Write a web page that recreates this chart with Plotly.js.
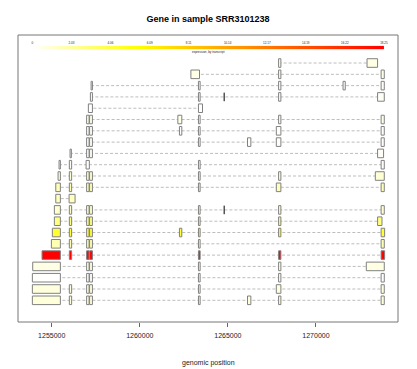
<!DOCTYPE html>
<html><head><meta charset="utf-8">
<script src="https://cdn.plot.ly/plotly-3.0.1.min.js"></script>
<style>html,body{margin:0;padding:0;background:#fff}</style>
</head><body><div id="chart" style="width:417px;height:369px"></div>
<script>
const titleText = 'Gene in sample SRR3101238';
const xTitleText = 'genomic position';
const cbTitleText = 'expression, by transcript';

// one entry per transcript (row, top to bottom)
const exonStarts = [
 [1267880, 1272900],
 [1262900, 1267880, 1273700],
 [1257235, 1263330, 1267880, 1271540, 1273700],
 [1257195, 1263330, 1264789, 1267880, 1273500],
 [1257080, 1263330],
 [1256980, 1257150, 1262160, 1263330, 1267880, 1273700],
 [1256980, 1257150, 1262250, 1263330, 1267750, 1273700],
 [1256980, 1257150, 1263330, 1266115, 1267750, 1273700],
 [1256040, 1256980, 1257150, 1273500],
 [1255415, 1256000, 1256950, 1263330, 1273700],
 [1255360, 1256000, 1256980, 1257150, 1263330, 1267880, 1273370],
 [1255230, 1256000, 1256980, 1257150, 1263330, 1267750, 1273700],
 [1255230, 1255985],
 [1255150, 1256000, 1256980, 1257150, 1263330, 1264789, 1267880, 1273700],
 [1255150, 1256000, 1256980, 1257150, 1263330, 1267880, 1273500],
 [1255035, 1256000, 1256980, 1257150, 1262250, 1263330, 1267880, 1273700],
 [1254980, 1256000, 1256980, 1257150, 1263330, 1273700],
 [1254450, 1256000, 1256980, 1257150, 1263330, 1267880, 1273700],
 [1253920, 1256980, 1257150, 1263330, 1267880, 1272860],
 [1253900, 1256980, 1257150, 1263330, 1267880, 1273700],
 [1253900, 1256000, 1256980, 1257150, 1263330, 1267750, 1273700],
 [1253900, 1256000, 1256980, 1257150, 1263330, 1266115, 1267880, 1273700]
];
const exonEnds = [
 [1268010, 1273500],
 [1263390, 1268010, 1273880],
 [1257310, 1263425, 1268010, 1271665, 1273880],
 [1257310, 1263425, 1264791, 1268010, 1273880],
 [1257310, 1263560],
 [1257120, 1257310, 1262385, 1263425, 1268010, 1273880],
 [1257120, 1257310, 1262385, 1263425, 1268010, 1273880],
 [1257120, 1257310, 1263425, 1266305, 1268010, 1273880],
 [1256115, 1257120, 1257310, 1273840],
 [1255490, 1256130, 1257135, 1263425, 1273880],
 [1255490, 1256130, 1257120, 1257310, 1263425, 1268010, 1273880],
 [1255490, 1256130, 1257120, 1257310, 1263425, 1268010, 1273880],
 [1255490, 1256325],
 [1255490, 1256130, 1257120, 1257310, 1263425, 1264791, 1268010, 1273880],
 [1255490, 1256130, 1257120, 1257310, 1263425, 1268010, 1273750],
 [1255490, 1256130, 1257120, 1257310, 1262385, 1263425, 1268010, 1273900],
 [1255490, 1256130, 1257120, 1257310, 1263425, 1273880],
 [1255490, 1256130, 1257120, 1257310, 1263425, 1268010, 1273900],
 [1255490, 1257120, 1257310, 1263425, 1268010, 1273880],
 [1255490, 1257120, 1257310, 1263425, 1268010, 1273880],
 [1255490, 1256130, 1257120, 1257310, 1263425, 1268010, 1273880],
 [1255490, 1256130, 1257120, 1257310, 1263425, 1266305, 1268010, 1273880]
];
const expression = [0.6, 0.5, 0.1, 0.15, 0.05, 0.4, 0.1, 0.1, 0.15, 0.1, 0.9, 1.5,
                    1.4, 1.0, 2.7, 4.4, 1.6, 18.25, 0.6, 0.05, 0.7, 0.8];

const xTickVals = [1255000, 1260000, 1265000, 1270000];
const xTickText = ['1255000', '1260000', '1265000', '1270000'];
const cbTickVals = [0, 2.03, 4.06, 6.09, 8.11, 10.14, 12.17, 14.19, 16.22, 18.25];
const cbTickText = ['0', '2.03', '4.06', '6.09', '8.11', '10.14', '12.17', '14.19', '16.22', '18.25'];

// ---- styling / layout ----
const colorStops = [[0, [255, 255, 255]], [0.3, [255, 255, 0]], [1, [255, 0, 0]]];
const cbMax = cbTickVals[cbTickVals.length - 1];
function colorFor(v) {
  const t = Math.max(0, Math.min(1, v / cbMax));
  for (let i = 1; i < colorStops.length; i++) {
    const [t0, c0] = colorStops[i - 1], [t1, c1] = colorStops[i];
    if (t <= t1) {
      const f = (t - t0) / (t1 - t0);
      const c = c0.map((a, k) => Math.round(a + (c1[k] - a) * f));
      return 'rgb(' + c.join(',') + ')';
    }
  }
  return 'rgb(255,0,0)';
}
const plotlyScale = colorStops.map(([t, c]) => [t, 'rgb(' + c.join(',') + ')']);

const nRows = exonStarts.length;
const shapes = [];
// intron dashed lines
for (let r = 0; r < nRows; r++) {
  const y = r + 1;
  shapes.push({type: 'line', xref: 'x', yref: 'y', layer: 'above',
    x0: Math.min(...exonStarts[r]), x1: Math.max(...exonEnds[r]), y0: y, y1: y,
    line: {color: '#BDBDBD', width: 1, dash: '3px,2px'}});
}
const hh = 0.38;
for (let r = 0; r < nRows; r++) {
  const y = r + 1;
  const fill = colorFor(expression[r]);
  for (let i = 0; i < exonStarts[r].length; i++) {
    const s = exonStarts[r][i], e = exonEnds[r][i];
    const thin = (e - s) < 30;
    if (thin) {
      shapes.push({type: 'line', xref: 'x', yref: 'y', layer: 'above',
        x0: (s + e) / 2, x1: (s + e) / 2, y0: y - hh, y1: y + hh,
        line: {color: '#000', width: 1}});
    } else {
      shapes.push({type: 'rect', xref: 'x', yref: 'y', layer: 'above',
        x0: s, x1: e, y0: y - hh, y1: y + hh,
        fillcolor: fill, line: {color: '#808080', width: 1}});
    }
  }
}
// frame
shapes.push({type: 'rect', xref: 'paper', yref: 'paper', x0: 0, x1: 1, y0: 0, y1: 1,
  line: {color: '#777', width: 1}, layer: 'above'});

const traces = [
  {type: 'heatmap', x: cbTickVals, y: [0], z: [cbTickVals], xaxis: 'x2', yaxis: 'y2',
   colorscale: plotlyScale, zmin: 0, zmax: cbMax, zsmooth: 'best', showscale: false,
   hoverinfo: 'skip'},
  {type: 'scatter', mode: 'markers', x: [], y: [], showlegend: false}
];

const font = 'Liberation Sans, Arial, sans-serif';
const layout = {
  width: 417, height: 369,
  margin: {l: 18, r: 19, t: 35, b: 47, pad: 0},
  paper_bgcolor: '#fff', plot_bgcolor: '#fff',
  showlegend: false,
  font: {family: font, color: '#222'},
  title: {text: '<b>' + titleText + '</b>', font: {family: font, size: 9, color: '#000'},
          x: 0.5, xref: 'paper', xanchor: 'center', y: 1 - 19 / 369, yanchor: 'middle'},
  xaxis: {range: [1253085, 1274659], tickvals: xTickVals, ticktext: xTickText,
          ticks: 'outside', ticklen: 4, tickcolor: '#666', tickfont: {size: 7, color: '#222'},
          ticklabelstandoff: 3,
          showgrid: false, zeroline: false, showline: false, fixedrange: true},
  yaxis: {range: [nRows + 1.92, -1.48], visible: false, showgrid: false, zeroline: false, fixedrange: true},
  xaxis2: {domain: [0.0376, 0.963], range: [0, cbMax], anchor: 'y2', side: 'top',
           tickvals: cbTickVals, ticktext: cbTickText, ticks: '', ticklabelstandoff: 0,
           tickfont: {size: 3, color: '#222'}, showgrid: false, zeroline: false, showline: false},
  yaxis2: {domain: [0.950, 0.9627], range: [-0.5, 0.5], anchor: 'x2', visible: false},
  shapes: shapes,
  annotations: [
    {text: xTitleText, xref: 'paper', yref: 'paper', x: 0.5, y: -(363 - 322) / 287,
     xanchor: 'center', yanchor: 'middle', showarrow: false, font: {size: 7, color: '#222'}},
    {text: cbTitleText, xref: 'paper', yref: 'paper', x: 0.5, y: (322 - 52.3) / 287,
     xanchor: 'center', yanchor: 'middle', showarrow: false, font: {size: 3, color: '#222'}}
  ]
};
Plotly.newPlot('chart', traces, layout, {displayModeBar: false, staticPlot: true});
</script>
</body></html>
